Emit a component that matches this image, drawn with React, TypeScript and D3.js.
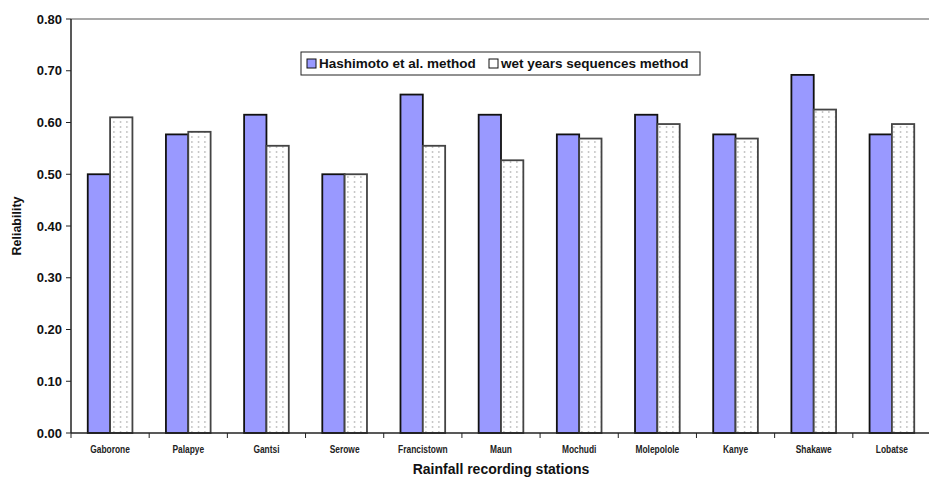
import React from "react";
import * as d3 from "d3";

const stations = [
  "Gaborone", "Palapye", "Gantsi", "Serowe", "Francistown", "Maun",
  "Mochudi", "Molepolole", "Kanye", "Shakawe", "Lobatse",
];
const hashimoto = [0.5, 0.577, 0.615, 0.5, 0.654, 0.615, 0.577, 0.615, 0.577, 0.692, 0.577];
const wetYears = [0.61, 0.582, 0.555, 0.5, 0.555, 0.527, 0.569, 0.597, 0.569, 0.625, 0.597];
const seriesNames = ["Hashimoto et al. method", "wet years sequences method"];
const yTicks = [0, 0.1, 0.2, 0.3, 0.4, 0.5, 0.6, 0.7, 0.8];

const W = 929;
const H = 478;
const left = 71;
const right = 931;
const top = 19;
const bottom = 433;

export default function App() {
  const x = d3.scaleBand<string>().domain(stations).range([left, right]).padding(0);
  const inner = d3
    .scaleBand<number>()
    .domain([0, 1])
    .range([0, x.bandwidth()])
    .paddingInner(0)
    .paddingOuter(0.75);
  const y = d3.scaleLinear().domain([0, 0.8]).range([bottom, top]);
  const fmt = d3.format(".2f");
  const series = [hashimoto, wetYears];

  return (
    <svg
      width={W}
      height={H}
      style={{ position: "absolute", left: 0, top: 0, background: "#fff" }}
      fontFamily="Arial, 'Liberation Sans', sans-serif"
    >
      <defs>
        <pattern id="dots" width="6.5" height="5" patternUnits="userSpaceOnUse">
          <rect width="6.5" height="5" fill="#fff" />
          <rect x="3" y="1" width="1" height="2" fill="#a8a8a8" />
        </pattern>
      </defs>
      <rect x={0} y={0} width={W} height={H} fill="#fff" />

      {/* plot frame top edge */}
      <line x1={left} x2={right} y1={top} y2={top} stroke="#8c8c8c" strokeWidth={1.5} />

      {/* bars */}
      {stations.map((s, i) =>
        series.map((vals, k) => {
          const bx = (x(s) as number) + (inner(k) as number);
          const by = y(vals[i]);
          return (
            <rect
              key={s + k}
              x={bx}
              y={by}
              width={inner.bandwidth()}
              height={bottom - by}
              fill={k === 0 ? "#9999ff" : "url(#dots)"}
              stroke={k === 0 ? "#111" : "#444"}
              strokeWidth={1.8}
            />
          );
        })
      )}

      {/* y axis */}
      <line x1={left} x2={left} y1={top} y2={bottom} stroke="#222" strokeWidth={1.5} />
      {yTicks.map((t) => (
        <g key={t}>
          <line x1={left - 5} x2={left} y1={y(t)} y2={y(t)} stroke="#222" strokeWidth={1} />
          <text
            x={left - 9}
            y={y(t)}
            dy="0.35em"
            textAnchor="end"
            fontSize={13}
            fontWeight="bold"
            fill="#111"
          >
            {fmt(t)}
          </text>
        </g>
      ))}

      {/* x axis */}
      <line x1={left} x2={right} y1={bottom} y2={bottom} stroke="#222" strokeWidth={1.5} />
      {stations.map((s) => (
        <line
          key={"tk" + s}
          x1={x(s) as number}
          x2={x(s) as number}
          y1={bottom}
          y2={bottom + 5}
          stroke="#222"
          strokeWidth={1}
        />
      ))}
      {stations.map((s) => (
        <text
          key={"lb" + s}
          transform={`translate(${(x(s) as number) + x.bandwidth() / 2}, 453) scale(0.8, 1)`}
          textAnchor="middle"
          fontSize={10.5}
          fontWeight="bold"
          fill="#222"
        >
          {s}
        </text>
      ))}

      {/* axis titles */}
      <text
        x={(left + right) / 2}
        y={474}
        textAnchor="middle"
        fontSize={14}
        fontWeight="bold"
        fill="#111"
      >
        Rainfall recording stations
      </text>
      <text
        transform={`translate(21, ${(top + bottom) / 2}) rotate(-90)`}
        textAnchor="middle"
        fontSize={12.5}
        fontWeight="bold"
        fill="#111"
      >
        Reliability
      </text>

      {/* legend */}
      <g>
        <rect x={301} y={52} width={399} height={23} fill="#fff" stroke="#222" strokeWidth={1} />
        <rect x={307} y={59} width={9} height={9} fill="#9999ff" stroke="#111" strokeWidth={1} />
        <text x={319} y={68} fontSize={13.5} fontWeight="bold" fill="#111">
          {seriesNames[0]}
        </text>
        <rect x={489} y={59} width={9} height={9} fill="#fff" stroke="#111" strokeWidth={1} />
        <text x={501} y={68} fontSize={13.5} fontWeight="bold" fill="#111">
          {seriesNames[1]}
        </text>
      </g>
    </svg>
  );
}
